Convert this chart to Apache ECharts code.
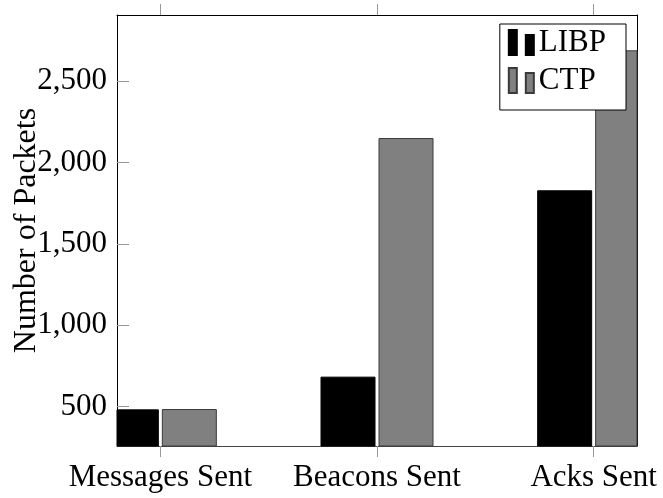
<!DOCTYPE html>
<html>
<head>
<meta charset="utf-8">
<script src="https://cdn.jsdelivr.net/npm/echarts@6/dist/echarts.min.js"></script>
<style>
  html, body { margin: 0; padding: 0; background: #fff; }
  #chart { width: 663px; height: 498px; }
</style>
</head>
<body>
<div id="chart"></div>
<script>
const categories = ['Messages Sent', 'Beacons Sent', 'Acks Sent'];
const libpValues = [480, 681, 1826];
const ctpValues = [482, 2147, 2686];
const yTicks = [500, 1000, 1500, 2000, 2500];

const FONT = '"Liberation Serif", "DejaVu Serif", serif';
const FS = 31;
const Y_MIN = 258, Y_MAX = 2906;
const BAR_W = 54, BAR_GAP = 4;
const legendIcon = 'path://M0,0H8V25H0Z M17,5H25V25H17Z';

const chart = echarts.init(document.getElementById('chart'), null, { renderer: 'canvas' });
const catIdx = categories.map((c, i) => i);

function makeBarRenderer(side) {
  return function (params, api) {
    const xv = api.value(0), yv = api.value(1);
    const top = api.coord([xv, yv]);
    const base = api.coord([xv, 0]);
    const cx = top[0] + side * (BAR_W + BAR_GAP) / 2;
    const rect = { x: cx - BAR_W / 2, y: top[1], width: BAR_W, height: base[1] - top[1] };
    const cs = params.coordSys;
    const clipped = echarts.graphic.clipRectByRect(rect, { x: cs.x, y: cs.y, width: cs.width, height: cs.height });
    if (!clipped) return null;
    return { type: 'rect', shape: clipped, style: api.style() };
  };
}

chart.setOption({
  animation: false,
  backgroundColor: '#ffffff',
  grid: { left: 117, right: 26, top: 15, bottom: 52, containLabel: false, outerBoundsMode: 'none' },
  legend: {
    orient: 'vertical',
    right: 37,
    top: 24,
    itemWidth: 25,
    itemHeight: 25,
    itemGap: 7,
    padding: [3, 20, 14, 8],
    backgroundColor: '#fff',
    borderColor: '#000',
    borderWidth: 1,
    textStyle: { fontFamily: FONT, fontSize: FS, color: '#000', lineHeight: 31 },
    data: [
      { name: 'LIBP', icon: legendIcon },
      { name: 'CTP', icon: legendIcon }
    ]
  },
  xAxis: [
    {
      type: 'value',
      min: -0.2,
      max: 2.2,
      position: 'bottom',
      axisLine: { show: true, onZero: false, lineStyle: { color: '#444', width: 1 } },
      axisTick: { show: true, inside: false, length: 11, lineStyle: { color: '#999' }, customValues: catIdx },
      axisLabel: {
        show: true, margin: 16, fontFamily: FONT, fontSize: FS, color: '#000',
        customValues: catIdx,
        formatter: v => categories[Math.round(v)] || ''
      },
      splitLine: { show: false }
    },
    {
      type: 'value',
      min: -0.2,
      max: 2.2,
      position: 'top',
      axisLine: { show: true, onZero: false, lineStyle: { color: '#000', width: 1 } },
      axisTick: { show: true, inside: false, length: 11, lineStyle: { color: '#999' }, customValues: catIdx },
      axisLabel: { show: false },
      splitLine: { show: false }
    }
  ],
  yAxis: [
    {
      type: 'value',
      min: Y_MIN,
      max: Y_MAX,
      position: 'left',
      name: 'Number of Packets',
      nameLocation: 'middle',
      nameGap: 74,
      nameMoveOverlap: false,
      nameTextStyle: { fontFamily: FONT, fontSize: 32, color: '#000' },
      axisLine: { show: true, onZero: false, lineStyle: { color: '#000', width: 1 } },
      axisTick: { show: true, inside: true, length: 12, lineStyle: { color: '#999' }, customValues: yTicks },
      axisLabel: {
        show: true, margin: 10, fontFamily: FONT, fontSize: FS, color: '#000',
        customValues: yTicks,
        formatter: v => v.toLocaleString('en-US')
      },
      splitLine: { show: false }
    },
    {
      type: 'value',
      min: Y_MIN,
      max: Y_MAX,
      position: 'right',
      axisLine: { show: true, onZero: false, lineStyle: { color: '#000', width: 1 } },
      axisTick: { show: true, inside: true, length: 12, lineStyle: { color: '#999' }, customValues: yTicks },
      axisLabel: { show: false },
      splitLine: { show: false }
    }
  ],
  series: [
    {
      name: 'LIBP',
      type: 'custom',
      xAxisIndex: 0,
      yAxisIndex: 0,
      encode: { x: 0, y: 1 },
      renderItem: makeBarRenderer(-1),
      itemStyle: { color: '#000', borderColor: '#000', borderWidth: 1 },
      data: libpValues.map((v, i) => [i, v])
    },
    {
      name: 'CTP',
      type: 'custom',
      xAxisIndex: 0,
      yAxisIndex: 0,
      encode: { x: 0, y: 1 },
      renderItem: makeBarRenderer(1),
      itemStyle: { color: '#808080', borderColor: '#3a3a3a', borderWidth: 1 },
      data: ctpValues.map((v, i) => [i, v])
    }
  ]
});
</script>
</body>
</html>
